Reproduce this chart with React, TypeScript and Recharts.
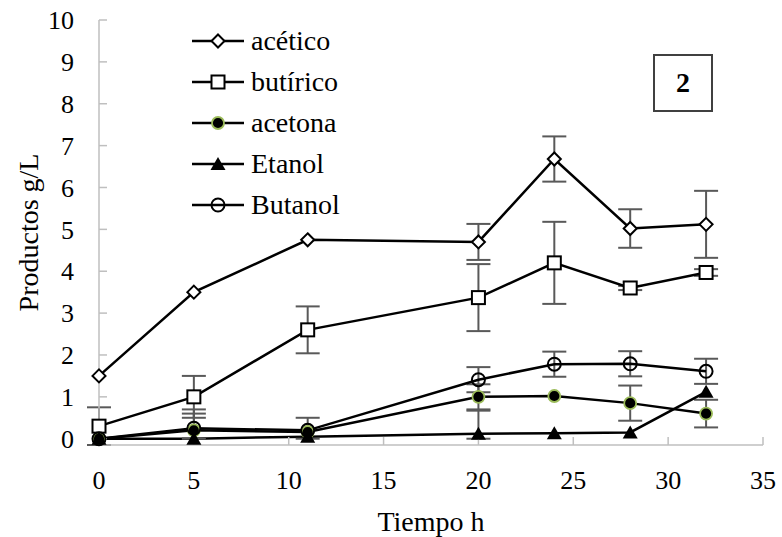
import { CartesianGrid, ErrorBar, Legend, Line, LineChart, XAxis, YAxis } from "recharts";

const TIEMPO = [0, 5, 11, 20, 24, 28, 32];
const ACETICO = [1.5, 3.5, 4.75, 4.7, 6.68, 5.02, 5.12];
const ACETICO_ERR = [0, 0, 0, 0.43, 0.54, 0.46, 0.8];
const BUTIRICO = [0.3, 1.0, 2.6, 3.37, 4.2, 3.6, 3.97];
const BUTIRICO_ERR = [0.45, 0.5, 0.56, 0.8, 0.98, 0.05, 0.08];
const ACETONA = [0, 0.2, 0.16, 1.0, 1.02, 0.85, 0.6];
const ACETONA_ERR: (number | number[])[] = [0, [0.2, 0.4], 0, 0.3, 0, 0.42, 0.33];
const ETANOL = [0, 0, 0.05, 0.12, 0.13, 0.15, 1.12];
const ETANOL_ERR: (number | number[])[] = [0, 0, 0, [0.12, 0.55], 0, 0, 0];
const BUTANOL = [0, 0.25, 0.2, 1.41, 1.78, 1.79, 1.61];
const BUTANOL_ERR: (number | number[])[] = [0, [0.25, 0.45], [0.2, 0.3], 0.3, 0.3, 0.3, 0.3];
const X_TICKS = [0, 5, 10, 15, 20, 25, 30, 35];
const Y_TICKS = [0, 1, 2, 3, 4, 5, 6, 7, 8, 9, 10];

type Kind = "diamond" | "square" | "dot" | "triangle" | "circle";

const SERIES: { key: string; name: string; kind: Kind }[] = [
  { key: "acetico", name: "acético", kind: "diamond" },
  { key: "butirico", name: "butírico", kind: "square" },
  { key: "acetona", name: "acetona", kind: "dot" },
  { key: "etanol", name: "Etanol", kind: "triangle" },
  { key: "butanol", name: "Butanol", kind: "circle" },
];

const data = TIEMPO.map((t, i) => ({
  t,
  acetico: ACETICO[i], acetico_err: ACETICO_ERR[i],
  butirico: BUTIRICO[i], butirico_err: BUTIRICO_ERR[i],
  acetona: ACETONA[i], acetona_err: ACETONA_ERR[i],
  etanol: ETANOL[i], etanol_err: ETANOL_ERR[i],
  butanol: BUTANOL[i], butanol_err: BUTANOL_ERR[i],
}));

const FONT = "Liberation Serif";
const AXIS = "#bfbfbf";

function Marker({ kind, cx, cy }: { kind: Kind; cx: number; cy: number }) {
  switch (kind) {
    case "diamond":
      return <path d={`M${cx},${cy - 6.5}L${cx + 6.5},${cy}L${cx},${cy + 6.5}L${cx - 6.5},${cy}Z`} fill="#fff" stroke="#000" strokeWidth={2} />;
    case "square":
      return <rect x={cx - 6.5} y={cy - 6.5} width={13} height={13} fill="#fff" stroke="#000" strokeWidth={2} />;
    case "dot":
      return <circle cx={cx} cy={cy} r={6} fill="#000" stroke="#9bbb59" strokeWidth={1.8} />;
    case "triangle":
      return <path d={`M${cx},${cy - 7}L${cx + 7.5},${cy + 6}L${cx - 7.5},${cy + 6}Z`} fill="#000" />;
    default:
      return <circle cx={cx} cy={cy} r={6.5} fill="none" stroke="#000" strokeWidth={2} />;
  }
}

function LegendBox() {
  return (
    <div style={{ fontFamily: FONT, fontSize: 28, color: "#000" }}>
      {SERIES.map((s) => (
        <div key={s.key} style={{ display: "flex", alignItems: "center", height: 41 }}>
          <svg width={56} height={20} style={{ marginRight: 5 }}>
            <line x1={2} y1={10} x2={54} y2={10} stroke="#000" strokeWidth={2.5} />
            <Marker kind={s.kind} cx={28} cy={10} />
          </svg>
          <span style={{ lineHeight: "41px" }}>{s.name}</span>
        </div>
      ))}
    </div>
  );
}

export default function App() {
  return (
    <div style={{ position: "relative", width: 782, height: 537 }}>
      <style>{`body{margin:0}`}</style>
      <LineChart width={782} height={537} data={data} margin={{ top: 20, right: 19, left: 0, bottom: 0 }}>
        <CartesianGrid stroke="none" />
        <XAxis
          dataKey="t"
          type="number"
          domain={[0, 35]}
          ticks={X_TICKS}
          height={92}
          stroke={AXIS}
          strokeWidth={1.5}
          tickSize={-8}
          tickMargin={34}
          tick={{ fill: "#000", fontSize: 26, fontFamily: FONT }}
          label={{ value: "Tiempo h", position: "insideBottom", offset: 6, fill: "#000", fontSize: 28, fontFamily: FONT }}
        />
        <YAxis
          type="number"
          domain={[0, 10]}
          ticks={Y_TICKS}
          width={99}
          stroke={AXIS}
          strokeWidth={1.5}
          tickSize={-8}
          tickMargin={33}
          tick={{ fill: "#000", fontSize: 26, fontFamily: FONT }}
          label={{ value: "Productos g/L", angle: -90, position: "insideLeft", offset: 28, fill: "#000", fontSize: 28, fontFamily: FONT, style: { textAnchor: "middle" } }}
        />
        <Legend
          layout="horizontal"
          verticalAlign="middle"
          content={() => <LegendBox />}
          wrapperStyle={{ top: 20, left: 190, width: 200 }}
        />
        {SERIES.map((s) => (
          <Line
            key={s.key}
            dataKey={s.key}
            name={s.name}
            stroke="#000"
            strokeWidth={2.5}
            isAnimationActive={false}
            dot={(p: any) => <Marker key={`${s.key}-${p.index}`} kind={s.kind} cx={p.cx} cy={p.cy} />}
            activeDot={false}
          >
            <ErrorBar dataKey={`${s.key}_err`} direction="y" width={12} stroke="#595959" strokeWidth={2} />
          </Line>
        ))}
      </LineChart>
      <div
        style={{
          position: "absolute",
          left: 653,
          top: 54,
          width: 56,
          height: 54,
          border: "2px solid #404040",
          display: "flex",
          alignItems: "center",
          justifyContent: "center",
          fontFamily: FONT,
          fontWeight: "bold",
          fontSize: 28,
          background: "#fff",
        }}
      >
        2
      </div>
    </div>
  );
}
